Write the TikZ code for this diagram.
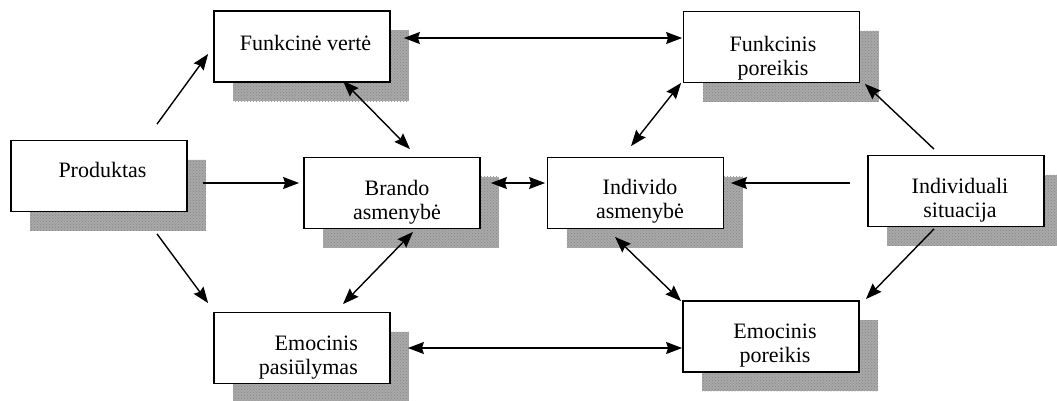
\documentclass[tikz,border=0pt]{standalone}
\usepackage{fontspec}
\setmainfont{Liberation Serif}
\usetikzlibrary{arrows.meta,calc,patterns}

\begin{document}
\begin{tikzpicture}[x=1pt,y=-1pt,
  box/.style={draw, line width=1.8pt, fill=white, minimum width=176pt, minimum height=71pt,
    inner sep=0pt,
    preaction={draw=none, fill=gray!68, transform canvas={shift={(19pt,-19pt)}}},
    preaction={draw=none, pattern=crosshatch dots, pattern color=gray!95,
      transform canvas={shift={(19pt,-19pt)}}}},
  txt/.style={inner sep=0pt, anchor=north, align=center,
    font=\fontsize{22}{24.5}\selectfont},
  arr/.style={line width=1.4pt, -{Stealth[length=16pt,width=12pt,inset=2pt]}},
  biarr/.style={line width=1.4pt, {Stealth[length=16pt,width=12pt,inset=2pt]}-{Stealth[length=16pt,width=12pt,inset=2pt]}}
]
\useasboundingbox (0,0) rectangle (1057,400);
\clip (0,0) rectangle (1057,400);

% boxes
\node[box] (fv)     at (302,46.5)   {};
\node[box] (prod)   at (99,176)     {};
\node[box] (brando) at (392,193)    {};
\node[box] (emp)    at (302,348)    {};
\node[box] (fp)     at (771.5,47)   {};
\node[box] (ind)    at (635.5,193)  {};
\node[box] (is)     at (956,191)    {};
\node[box] (ep)     at (771,336.5)  {};

% box texts
\node[txt] (fvT)     at (305.5,32.85) {\strut Funkcinė vertė};
\node[txt] (prodT)   at (102.5,159.85) {\strut Produktas};
\node[txt] (brandoT) at (397,177.85)  {\strut Brando\\\strut asmenybė};
\node[txt, anchor=north east, align=right] (empT) at (358,332.85) {\strut Emocinis\\\strut pasiūlymas};
\node[txt] (fpT)     at (773,33.85)   {\strut Funkcinis\\\strut poreikis};
\node[txt] (indT)    at (640,176.85)  {\strut Individo\\\strut asmenybė};
\node[txt] (isT)     at (960,175.85)  {\strut Individuali\\\strut situacija};
\node[txt] (epT)     at (775,320.85)  {\strut Emocinis\\\strut poreikis};

% connectors
\draw[arr]   ($(prod.north)+(58,-15.5)$) -- ($(fv.west)+(-5,7.5)$);
\draw[arr]   ($(prod.east)+(15,7)$) -- ($(brando.west)+(-4,-10)$);
\draw[arr]   ($(prod.south)+(58,21.5)$) -- ($(emp.north west)+(-5,-8.5)$);
\draw[biarr] ($(fv.east)+(13,-8.5)$) -- ($(fp.west)+(-0.5,-9)$);
\draw[biarr] ($(fv.south)+(41,-2)$) -- ($(brando.north)+(18,-7.5)$);
\draw[biarr] ($(brando.south)+(21,2.5)$) -- ($(emp.north)+(41,-7.5)$);
\draw[biarr] ($(brando.east)+(10,-10)$) -- ($(ind.west)+(-1.5,-10)$);
\draw[arr]   ($(is.west)+(-17,-8)$) -- ($(ind.east)+(6.5,-10)$);
\draw[biarr] ($(ind.north)+(-4.5,-10.5)$) -- ($(fp.south west)+(-1.5,-0.5)$);
\draw[arr]   ($(is.north)+(-22,-5.5)$) -- ($(fp.south east)+(4.5,0.5)$);
\draw[biarr] ($(ind.south)+(-20.5,7.5)$) -- ($(ep.north west)+(-1,1)$);
\draw[arr]   ($(is.south)+(-22,1.5)$) -- ($(ep.north east)+(6,-1)$);
\draw[biarr] ($(emp.east)+(17,0)$) -- ($(ep.west)+(0,11.5)$);
\end{tikzpicture}
\end{document}
